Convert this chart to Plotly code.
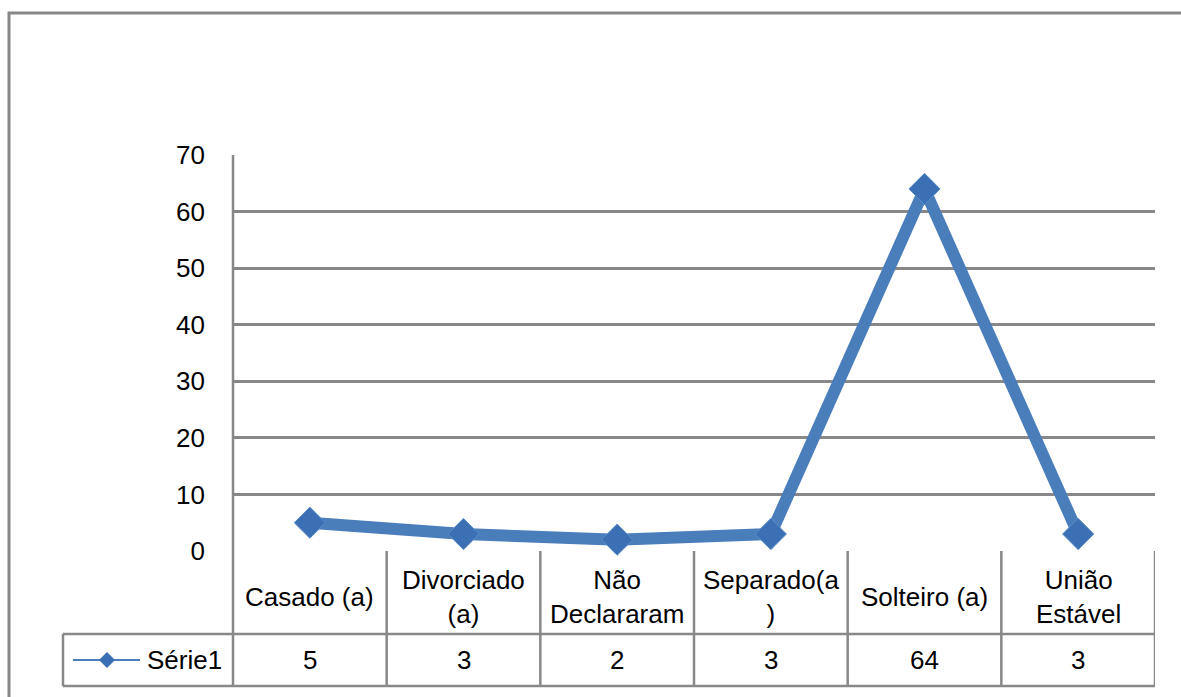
import plotly.graph_objects as go

# Estado civil dos respondentes
categorias = ["Casado (a)", "Divorciado<br>(a)", "Não<br>Declararam",
              "Separado(a<br>)", "Solteiro (a)", "União<br>Estável"]
valores = [5, 3, 2, 3, 64, 3]
serie_nome = "Série1"
y_ticks = [0, 10, 20, 30, 40, 50, 60, 70]

W, H = 1181, 697
# plot area in pixels
L, R, T, B = 233, 1155, 155, 551
PW, PH = R - L, B - T

def px_x(px):
    return (px - L) / PW

def px_y(py):
    return (B - py) / PH

AZUL = "#4a7ebb"
AZUL_MARC = "#3b70b5"
CINZA = "#888888"
FONTE = "Liberation Sans, Arial, sans-serif"
TAM = 26

n = len(categorias)
xs = [i + 0.5 for i in range(n)]

fig = go.Figure()
fig.add_trace(go.Scatter(
    x=xs, y=valores, mode="lines+markers", name=serie_nome,
    line=dict(color=AZUL, width=12),
    marker=dict(symbol="diamond", size=24, color=AZUL_MARC,
                line=dict(color="#5a8cc8", width=1)),
    cliponaxis=False, showlegend=False,
))

shapes = []
def linha(x0, y0, x1, y1, xref="paper", w=2.5, cor=CINZA):
    shapes.append(dict(type="line", xref=xref, yref="paper",
                       x0=x0, y0=y0, x1=x1, y1=y1,
                       line=dict(color=cor, width=w), layer="below"))

# outer chart border (extends past the page edge on right/bottom)
shapes.append(dict(type="rect", xref="paper", yref="paper",
                   x0=px_x(9), y0=px_y(13), x1=px_x(1200), y1=px_y(720),
                   line=dict(color=CINZA, width=3), layer="below"))

# data table grid
ROW1, ROW2 = 634, 686
linha(px_x(L), px_y(T), px_x(L), px_y(ROW2))            # vertical axis line
for i in range(1, n + 1):
    shapes.append(dict(type="line", xref="x", yref="paper",
                       x0=i, x1=i, y0=px_y(B), y1=px_y(ROW2),
                       line=dict(color=CINZA, width=2.5), layer="below"))
linha(px_x(63), px_y(ROW1), px_x(R), px_y(ROW1))
linha(px_x(63), px_y(ROW2), px_x(R), px_y(ROW2))
linha(px_x(63), px_y(ROW1), px_x(63), px_y(ROW2))

# legend key inside the table
yk = px_y(660)
linha(px_x(73), yk, px_x(140), yk, w=2, cor=AZUL)
cx, cy, d = 107, 660, 8
shapes.append(dict(type="path", xref="paper", yref="paper",
                   path=f"M {px_x(cx - d)} {px_y(cy)} L {px_x(cx)} {px_y(cy - d)} "
                        f"L {px_x(cx + d)} {px_y(cy)} L {px_x(cx)} {px_y(cy + d)} Z",
                   fillcolor=AZUL_MARC, line=dict(color=AZUL_MARC, width=0)))

fonte = dict(size=TAM, color="black", family=FONTE)
annotations = [dict(x=px_x(145), y=yk, xref="paper", yref="paper",
                    text=serie_nome, showarrow=False, xanchor="left",
                    yanchor="middle", font=fonte)]
for x, cat, v in zip(xs, categorias, valores):
    annotations.append(dict(x=x, y=px_y(597), xref="x", yref="paper", text=cat,
                            showarrow=False, xanchor="center", yanchor="middle",
                            font=fonte))
    annotations.append(dict(x=x, y=yk, xref="x", yref="paper", text=str(v),
                            showarrow=False, xanchor="center", yanchor="middle",
                            font=fonte))

fig.update_layout(
    width=W, height=H, autosize=False,
    margin=dict(l=L, r=W - R, t=T, b=H - B),
    paper_bgcolor="white", plot_bgcolor="white",
    xaxis=dict(range=[0, n], showgrid=False, zeroline=False, showticklabels=False,
               showline=False, fixedrange=True),
    yaxis=dict(range=[0, 70], tickvals=y_ticks, showgrid=True, gridcolor=CINZA,
               gridwidth=2.5, zeroline=False, showline=False, ticks="",
               ticklabelstandoff=27, tickfont=fonte),
    shapes=shapes, annotations=annotations,
    font=dict(family=FONTE),
)

fig.write_html("out.html")
